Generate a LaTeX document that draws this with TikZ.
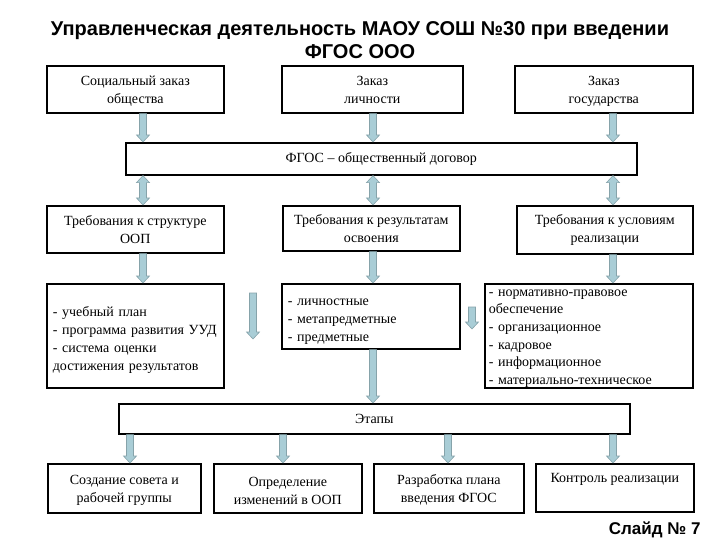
\documentclass[tikz,border=0pt]{standalone}
\usepackage{fontspec}
\setmainfont{Liberation Serif}
\newfontfamily\titlefont{Liberation Sans}
\usetikzlibrary{calc}
\definecolor{arrfill}{HTML}{A9CDD6}
\definecolor{arrline}{HTML}{86A3AA}
\tikzset{
  box/.style={draw=black, line width=1.6pt, fill=white, anchor=north west,
    inner sep=3pt, font=\fontsize{14}{18}\selectfont, align=center},
  listbox/.style={box, align=left, inner ysep=0pt},
  barrowstyle/.style={fill=arrfill, draw=arrline, line width=0.6pt, line join=miter}
}
\newcommand\blockarrow[2]{%
  \draw[barrowstyle] let \p1=#1, \p2=#2 in
    (\x1-3.5pt,\y1) -- (\x1+3.5pt,\y1) -- (\x1+3.5pt,\y2+7pt) -- (\x1+6.5pt,\y2+7pt)
    -- (\x1,\y2) -- (\x1-6.5pt,\y2+7pt) -- (\x1-3.5pt,\y2+7pt) -- cycle;}
\newcommand\dblockarrow[2]{%
  \draw[barrowstyle] let \p1=#1, \p2=#2 in
    (\x1,\y1) -- (\x1+6.5pt,\y1-7pt) -- (\x1+3.5pt,\y1-7pt) -- (\x1+3.5pt,\y2+7pt)
    -- (\x1+6.5pt,\y2+7pt) -- (\x1,\y2) -- (\x1-6.5pt,\y2+7pt) -- (\x1-3.5pt,\y2+7pt)
    -- (\x1-3.5pt,\y1-7pt) -- (\x1-6.5pt,\y1-7pt) -- cycle;}
\newcommand\tallstrut[1]{\rule{0pt}{#1}}
\newcommand\deepstrut{\rule[-5pt]{0pt}{5pt}}
\begin{document}
\begin{tikzpicture}[x=1pt, y=-1pt]
\fill[white] (0,0) rectangle (720,540);
\useasboundingbox (0,0) rectangle (720,540);

\node[font=\titlefont\bfseries\fontsize{20}{23}\selectfont, align=center] (title) at (360,40)
  {Управленческая деятельность МАОУ СОШ №30 при введении\\ФГОС ООО};

% top row
\node[box, minimum width=177pt, minimum height=47pt] (s1) at (46,65) {\tallstrut{16pt}Социальный заказ\\общества\deepstrut};
\node[box, minimum width=181pt, minimum height=47pt] (s2) at (281,65) {\tallstrut{16pt}Заказ\\личности\deepstrut};
\node[box, minimum width=178pt, minimum height=47pt] (s3) at (514,65) {\tallstrut{16pt}Заказ\\государства\deepstrut};

\node[box, minimum width=511pt, minimum height=32pt] (fgos) at (125,142) {ФГОС – общественный договор};

% requirements
\node[box, minimum width=177pt, minimum height=47pt] (r1) at (46,205) {Требования к структуре\\ООП};
\node[box, minimum width=177pt, minimum height=45pt] (r2) at (282,205) {Требования к результатам\\освоения};
\node[box, minimum width=176pt, minimum height=48pt] (r3) at (516,205) {Требования к условиям\\реализации};

% lists
\node[listbox, inner xsep=6pt, text width=165pt, minimum width=177pt, minimum height=104pt] (l1) at (46,283)
  {\tallstrut{18pt}- учебный план\\- программа развития УУД\\- система оценки\\достижения результатов};
\node[listbox, inner xsep=6pt, text width=166pt, minimum width=178pt, minimum height=65pt] (l2) at (281,283)
  {\tallstrut{17pt}- личностные\\- метапредметные\\- предметные};
\node[listbox, inner xsep=4pt, text width=200pt, minimum width=208pt, minimum height=104pt,
  font=\fontsize{14}{17.6}\selectfont] (l3) at (484,283)
  {\tallstrut{12pt}- нормативно-правовое\\обеспечение\\- организационное\\- кадровое\\- информационное\\- материально-техническое};

% stages
\node[box, minimum width=511pt, minimum height=30pt] (et) at (118,403) {Этапы};
\node[box, minimum width=153pt, minimum height=49pt] (e1) at (47,463) {\tallstrut{14pt}Создание совета и\\рабочей группы};
\node[box, minimum width=148pt, minimum height=49pt] (e2) at (213,463) {\tallstrut{14pt}Определение\\изменений в ООП};
\node[box, minimum width=150pt, minimum height=49pt] (e3) at (373,463) {\tallstrut{14pt}Разработка плана\\введения ФГОС};
\node[box, minimum width=158pt, minimum height=48pt] (e4) at (535,463) {};
\node[font=\fontsize{14}{18}\selectfont, anchor=north] (e4t) at ($(e4.north)+(0,7)$) {Контроль реализации};

\node[font=\titlefont\bfseries\fontsize{17}{20}\selectfont, anchor=east] (slide) at (704,530) {Слайд № 7};

% arrow x positions
\coordinate (xa) at (143,0);
\coordinate (xb) at (373,0);
\coordinate (xc) at (613,0);
\coordinate (xd) at (130,0);
\coordinate (xe) at (283,0);
\coordinate (xf) at (448,0);
\coordinate (fa1) at (253,293);
\coordinate (fa2) at (253,339);
\coordinate (fb1) at (472,307);
\coordinate (fb2) at (472,329);

\blockarrow{(s1.south -| xa)}{(fgos.north -| xa)}
\blockarrow{(s2.south -| xb)}{(fgos.north -| xb)}
\blockarrow{(s3.south -| xc)}{(fgos.north -| xc)}

\dblockarrow{(fgos.south -| xa)}{(r1.north -| xa)}
\dblockarrow{(fgos.south -| xb)}{(r2.north -| xb)}
\dblockarrow{(fgos.south -| xc)}{(r3.north -| xc)}

\blockarrow{(r1.south -| xa)}{(l1.north -| xa)}
\blockarrow{(r2.south -| xb)}{(l2.north -| xb)}
\blockarrow{(r3.south -| xc)}{(l3.north -| xc)}

\blockarrow{(fa1)}{(fa2)}
\blockarrow{(fb1)}{(fb2)}

\blockarrow{(l2.south -| xb)}{(et.north -| xb)}

\blockarrow{(et.south -| xd)}{(e1.north -| xd)}
\blockarrow{(et.south -| xe)}{(e2.north -| xe)}
\blockarrow{(et.south -| xf)}{(e3.north -| xf)}
\blockarrow{(et.south -| xc)}{(e4.north -| xc)}
\end{tikzpicture}
\end{document}
